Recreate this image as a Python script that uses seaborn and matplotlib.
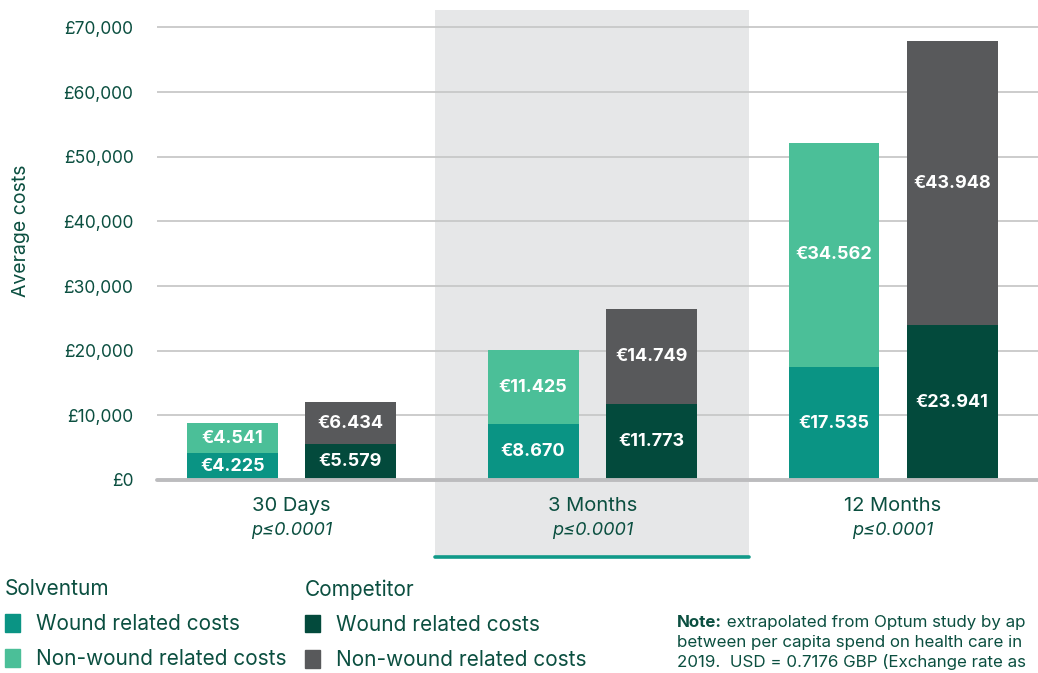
import matplotlib
matplotlib.use("Agg")
import matplotlib.pyplot as plt
import seaborn as sns
import pandas as pd
from matplotlib.patches import Patch

# Average costs per patient, stacked wound / non-wound, per follow-up period
periods = ["30 Days", "3 Months", "12 Months"]
p_values = ["p≤0.0001", "p≤0.0001", "p≤0.0001"]
companies = ["Solventum", "Competitor"]
solventum_wound = [4225, 8670, 17535]
solventum_nonwound = [4541, 11425, 34562]
competitor_wound = [5579, 11773, 23941]
competitor_nonwound = [6434, 14749, 43948]
y_ticks = [0, 10000, 20000, 30000, 40000, 50000, 60000, 70000]

TEXT = "#0b4f40"
SOL_WOUND = "#0a9484"
SOL_NONWOUND = "#4bbf98"
COMP_WOUND = "#034a3c"
COMP_NONWOUND = "#58595b"

rows = []
for i, p in enumerate(periods):
    rows.append(dict(period=p, company="Solventum", wound=solventum_wound[i],
                     nonwound=solventum_nonwound[i]))
    rows.append(dict(period=p, company="Competitor", wound=competitor_wound[i],
                     nonwound=competitor_nonwound[i]))
df = pd.DataFrame(rows)
df["total"] = df["wound"] + df["nonwound"]

sns.set_style("white")
plt.rcParams["font.family"] = ["Inter", "DejaVu Sans"]

fig = plt.figure(figsize=(10.38, 6.73), dpi=100)
ax = fig.add_axes([157 / 1038, 193 / 673, 881 / 1038, 470 / 673])

common = dict(data=df, x="period", hue="company", hue_order=companies,
              order=periods, width=0.785, gap=0.23, saturation=1,
              legend=False, ax=ax, zorder=3, linewidth=0, edgecolor="none")
sns.barplot(y="total", palette=[SOL_NONWOUND, COMP_NONWOUND], **common)
sns.barplot(y="wound", palette=[SOL_WOUND, COMP_WOUND], **common)

ax.set_xlim(-0.447, 2.482)
ax.set_ylim(0, 72700)
ax.set_yticks(y_ticks)
ax.set_yticklabels([f"£{v:,}" for v in y_ticks])
ax.tick_params(axis="y", length=0, pad=17, labelsize=12.5, labelcolor=TEXT)
ax.tick_params(axis="x", length=0, pad=12, labelsize=14.5, labelcolor=TEXT)
ax.set_xlabel("")
ax.set_ylabel("Average costs", fontsize=14, color=TEXT)
ax.yaxis.set_label_coords(-0.144, 0.53)
for s in ax.spines.values():
    s.set_visible(False)
ax.set_axisbelow(True)
ax.yaxis.grid(True, color="#c8c8c8", lw=1.3, zorder=1)
ax.axhline(0, color="#bcbcbe", lw=2.8, zorder=4, clip_on=False)

# highlighted middle period
lo, hi = 1 - 0.522, 1 + 0.522
ax.axvspan(lo, hi, ymin=-0.1638, ymax=1, color="#e6e7e8", lw=0, zorder=0,
           clip_on=False)
ax.plot([lo, hi], [-0.1638, -0.1638], transform=ax.get_xaxis_transform(),
        color="#119a89", lw=2.6, clip_on=False, zorder=2)

for i, pv in enumerate(p_values):
    ax.text(i, -0.1085, pv, transform=ax.get_xaxis_transform(), ha="center",
            va="center", fontsize=13, style="italic", color=TEXT)

# value labels inside segments
top_sol, top_comp, bot_sol, bot_comp = ax.containers
series = [(bot_sol, solventum_wound, None), (bot_comp, competitor_wound, None),
          (top_sol, solventum_nonwound, solventum_wound),
          (top_comp, competitor_nonwound, competitor_wound)]
for cont, vals, base in series:
    for j, (bar, v) in enumerate(zip(cont, vals)):
        b = 0 if base is None else base[j]
        ax.text(bar.get_x() + bar.get_width() / 2, b + v / 2,
                "€" + f"{v:,}".replace(",", "."), ha="center", va="center",
                color="white", fontsize=13, fontweight="bold", zorder=5)

# legends
leg_kw = dict(loc="upper left", frameon=False, borderpad=0, borderaxespad=0,
              handlelength=0.72, handleheight=0.95, handletextpad=0.75,
              labelspacing=0.72, fontsize=15, title_fontsize=15,
              labelcolor=TEXT, alignment="left")
leg1 = fig.legend(handles=[Patch(color=SOL_WOUND, label="Wound related costs"),
                           Patch(color=SOL_NONWOUND, label="Non-wound related costs")],
                  title="Solventum", bbox_to_anchor=(5 / 1038, 1 - 579 / 673), **leg_kw)
leg2 = fig.legend(handles=[Patch(color=COMP_WOUND, label="Wound related costs"),
                           Patch(color=COMP_NONWOUND, label="Non-wound related costs")],
                  title="Competitor", bbox_to_anchor=(305 / 1038, 1 - 579 / 673), **leg_kw)
for leg in (leg1, leg2):
    leg.get_title().set_color(TEXT)

# note
note = fig.text(677 / 1038, 1 - 627 / 673, "Note:", fontsize=12.2, fontweight="bold",
                color=TEXT, va="baseline")
ax.annotate(" extrapolated from Optum study by ap", xy=(1, 0), xycoords=note,
            va="bottom", fontsize=12.2, color=TEXT, annotation_clip=False)
fig.text(677 / 1038, 1 - 647 / 673, "between per capita spend on health care in",
         fontsize=12.2, color=TEXT, va="baseline")
fig.text(677 / 1038, 1 - 667 / 673, "2019.  USD = 0.7176 GBP (Exchange rate as",
         fontsize=12.2, color=TEXT, va="baseline")

fig.savefig("out.png", dpi=100)
